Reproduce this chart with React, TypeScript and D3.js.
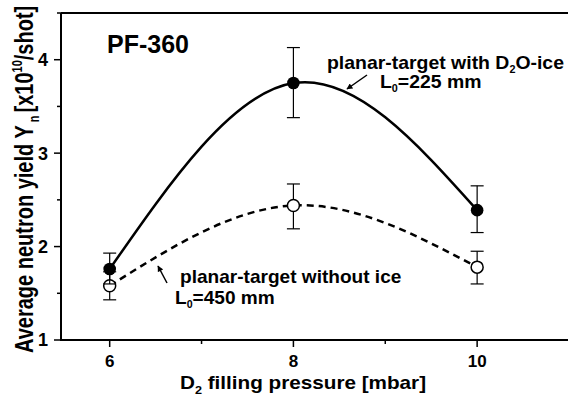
import React from "react";
import * as d3 from "d3";

const pressures = [6, 8, 10];
const yieldIce = [1.76, 3.75, 2.39];
const iceUpper = [1.93, 4.13, 2.65];
const iceLower = [1.6, 3.38, 2.15];
const yieldNoIce = [1.58, 2.44, 1.78];
const noIceUpper = [1.73, 2.67, 1.95];
const noIceLower = [1.43, 2.19, 1.6];

const xMajorTicks = [6, 8, 10];
const xMinorTicks = [7, 9];
const yMajorTicks = [1, 2, 3, 4];
const yMinorTicks = [1.5, 2.5, 3.5, 4.5];

const W = 568;
const H = 398;
const FONT = "'Liberation Sans', Arial, Helvetica, sans-serif";

export default function App() {
  const left = 61, right = 569, top = 13, bottom = 340;
  const x = d3.scaleLinear().domain([5.47, 11]).range([left, right]);
  const y = d3.scaleLinear().domain([1, 4.5]).range([bottom, top]);

  const line = d3
    .line<number>()
    .x((_, i) => x(pressures[i]))
    .y((d) => y(d))
    .curve(d3.curveNatural);

  const errBars = (up: number[], lo: number[], key: string) =>
    pressures.map((p, i) => (
      <g key={key + i} stroke="#000" strokeWidth={1.2}>
        <line x1={x(p)} x2={x(p)} y1={y(up[i])} y2={y(lo[i])} />
        <line x1={x(p) - 6.5} x2={x(p) + 6.5} y1={y(up[i])} y2={y(up[i])} />
        <line x1={x(p) - 6.5} x2={x(p) + 6.5} y1={y(lo[i])} y2={y(lo[i])} />
      </g>
    ));

  return (
    <svg
      width={W}
      height={H}
      style={{ position: "fixed", left: 0, top: 0, background: "#fff" }}
      fontFamily={FONT}
      fontWeight="bold"
    >
      <defs>
        <marker id="ah" viewBox="0 0 10 10" refX="9" refY="5" markerWidth="7" markerHeight="6" orient="auto" markerUnits="userSpaceOnUse">
          <path d="M0,0 L10,5 L0,10 z" fill="#000" />
        </marker>
      </defs>
      <rect x={0} y={0} width={W} height={H} fill="#fff" />

      {/* frame */}
      <line x1={left} x2={left} y1={top} y2={bottom + 1} stroke="#000" strokeWidth={2} />
      <line x1={left} x2={W} y1={top} y2={top} stroke="#000" strokeWidth={2} />
      <line x1={left} x2={W} y1={bottom} y2={bottom} stroke="#000" strokeWidth={2} />

      {/* y ticks */}
      {yMajorTicks.map((t) => (
        <g key={"ym" + t}>
          <line x1={left - 7} x2={left} y1={y(t)} y2={y(t)} stroke="#000" strokeWidth={1.5} />
          <text x={48} y={y(t)} dy="0.36em" textAnchor="end" fontSize={18}>
            {t}
          </text>
        </g>
      ))}
      {yMinorTicks.map((t) => (
        <line key={"yn" + t} x1={left - 4} x2={left} y1={y(t)} y2={y(t)} stroke="#000" strokeWidth={1.5} />
      ))}

      {/* x ticks */}
      {xMajorTicks.map((t) => (
        <g key={"xm" + t}>
          <line x1={x(t)} x2={x(t)} y1={bottom} y2={bottom + 7} stroke="#000" strokeWidth={1.5} />
          <text x={x(t)} y={367} textAnchor="middle" fontSize={17}>
            {t}
          </text>
        </g>
      ))}
      {xMinorTicks.map((t) => (
        <line key={"xn" + t} x1={x(t)} x2={x(t)} y1={bottom} y2={bottom + 4} stroke="#000" strokeWidth={1.5} />
      ))}

      {/* axis titles */}
      <g transform="translate(180,389) scale(1.15,1)">
        <text x={0} y={0} fontSize={18}>
          D<tspan fontSize={11} dy={5}>2</tspan>
          <tspan dy={-5}> filling pressure [mbar]</tspan>
        </text>
      </g>
      <g transform="translate(33,353) rotate(-90) scale(1,1.25)">
        <text x={0} y={0} fontSize={20}>
          Average neutron yield Y
          <tspan fontSize={11} dy={5}>{"\u00a0n\u00a0"}</tspan>
          <tspan dy={-5}>[x10</tspan>
          <tspan fontSize={11} dy={-9}>10</tspan>
          <tspan dy={9}>/shot]</tspan>
        </text>
      </g>

      {/* curves */}
      <path d={line(yieldNoIce) || ""} fill="none" stroke="#000" strokeWidth={2.5} strokeDasharray="7,5" />
      <path d={line(yieldIce) || ""} fill="none" stroke="#000" strokeWidth={2.5} />

      {/* no-ice series */}
      {errBars(noIceUpper, noIceLower, "ne")}
      {pressures.map((p, i) => (
        <circle key={"nc" + i} cx={x(p)} cy={y(yieldNoIce[i])} r={6} fill="#fff" stroke="#000" strokeWidth={1.5} />
      ))}

      {/* ice series */}
      {errBars(iceUpper, iceLower, "ie")}
      {pressures.map((p, i) => (
        <circle key={"ic" + i} cx={x(p)} cy={y(yieldIce[i])} r={6.3} fill="#000" />
      ))}

      {/* title */}
      <text x={107} y={53} fontSize={25}>PF-360</text>

      {/* annotations */}
      <g transform="translate(327,69) scale(1.08,1)">
        <text x={0} y={0} fontSize={18}>
          planar-target with D<tspan fontSize={10} dy={4}>2</tspan>
          <tspan dy={-4}>O-ice</tspan>
        </text>
      </g>
      <g transform="translate(380,88) scale(1.08,1)">
        <text x={0} y={0} fontSize={18}>
          L<tspan fontSize={10} dy={4}>0</tspan>
          <tspan dy={-4}>=225 mm</tspan>
        </text>
      </g>
      <line x1={367} y1={75} x2={347} y2={89} stroke="#000" strokeWidth={1.5} markerEnd="url(#ah)" />

      <g transform="translate(180,283) scale(1.06,1)">
        <text x={0} y={0} fontSize={18}>planar-target without ice</text>
      </g>
      <g transform="translate(175,304) scale(1.06,1)">
        <text x={0} y={0} fontSize={18}>
          L<tspan fontSize={10} dy={4}>0</tspan>
          <tspan dy={-4}>=450 mm</tspan>
        </text>
      </g>
      <line x1={167} y1={283} x2={158} y2={266} stroke="#000" strokeWidth={1.5} markerEnd="url(#ah)" />
    </svg>
  );
}
